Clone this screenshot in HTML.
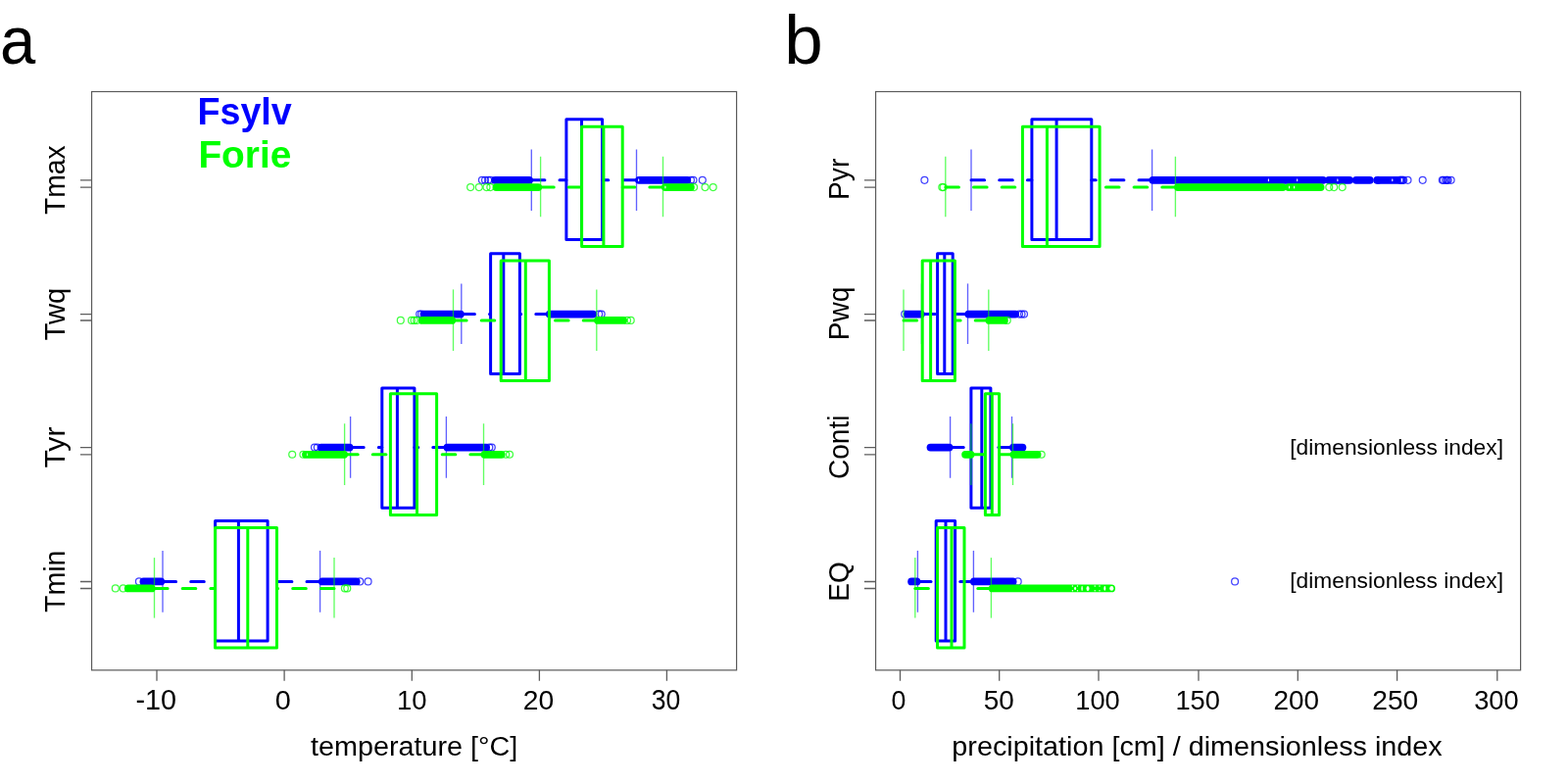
<!DOCTYPE html>
<html lang="en">
<head>
<meta charset="utf-8">
<title>Fsylv / Forie boxplots</title>
<style>
html,body{margin:0;padding:0;background:#fff;}
body{width:1600px;height:800px;overflow:hidden;}
svg{display:block;}

</style>
</head>
<body>
<svg width="1600" height="800" viewBox="0 0 1600 800">
<rect width="1600" height="800" fill="#fff"/>
<g>
<line x1="542.3" y1="183.8" x2="577.9" y2="183.8" stroke="#0000ff" stroke-width="3" stroke-dasharray="13.6 15.1" stroke-linecap="round"/>
<line x1="649.5" y1="183.8" x2="614.6" y2="183.8" stroke="#0000ff" stroke-width="3" stroke-dasharray="13.6 15.1" stroke-linecap="round"/>
<line x1="542.3" y1="152.5" x2="542.3" y2="215" stroke="#0000ff" stroke-width="1.35" stroke-opacity="0.62"/>
<line x1="649.5" y1="152.5" x2="649.5" y2="215" stroke="#0000ff" stroke-width="1.35" stroke-opacity="0.62"/>
<path d="M577.9 121.8H614.6V244.5H577.9ZM593.5 121.8V244.5" fill="none" stroke="#0000ff" stroke-width="3" stroke-linejoin="round"/>
<line x1="505.1" y1="183.8" x2="540.1" y2="183.8" stroke="#0000ff" stroke-width="7.8" stroke-linecap="round"/>
<circle cx="491.9" cy="183.8" r="3.45" fill="none" stroke="#0000ff" stroke-width="1.25" stroke-opacity="0.75"/>
<circle cx="495" cy="183.8" r="3.45" fill="none" stroke="#0000ff" stroke-width="1.25" stroke-opacity="0.75"/>
<circle cx="498.2" cy="183.8" r="3.45" fill="none" stroke="#0000ff" stroke-width="1.25" stroke-opacity="0.75"/>
<circle cx="500.6" cy="183.8" r="3.45" fill="none" stroke="#0000ff" stroke-width="1.25" stroke-opacity="0.75"/>
<line x1="652" y1="183.8" x2="701.3" y2="183.8" stroke="#0000ff" stroke-width="7.8" stroke-linecap="round"/>
<ellipse cx="651.7" cy="183.8" rx="0.6" ry="1.5" fill="#fff"/>
<circle cx="705" cy="183.8" r="3.45" fill="none" stroke="#0000ff" stroke-width="1.25" stroke-opacity="0.75"/>
<circle cx="707.5" cy="183.8" r="3.45" fill="none" stroke="#0000ff" stroke-width="1.25" stroke-opacity="0.75"/>
<circle cx="716.8" cy="183.8" r="3.45" fill="none" stroke="#0000ff" stroke-width="1.25" stroke-opacity="0.75"/>
<line x1="470.8" y1="320.6" x2="500.6" y2="320.6" stroke="#0000ff" stroke-width="3" stroke-dasharray="13.6 15.1" stroke-linecap="round"/>
<line x1="560.4" y1="320.6" x2="530.4" y2="320.6" stroke="#0000ff" stroke-width="3" stroke-dasharray="13.6 15.1" stroke-linecap="round"/>
<line x1="470.8" y1="289.4" x2="470.8" y2="351" stroke="#0000ff" stroke-width="1.35" stroke-opacity="0.62"/>
<line x1="560.4" y1="289.4" x2="560.4" y2="351" stroke="#0000ff" stroke-width="1.35" stroke-opacity="0.62"/>
<path d="M500.6 258.8H530.4V381.5H500.6ZM513.8 258.8V381.5" fill="none" stroke="#0000ff" stroke-width="3" stroke-linejoin="round"/>
<line x1="432.5" y1="320.6" x2="469.9" y2="320.6" stroke="#0000ff" stroke-width="7.8" stroke-linecap="round"/>
<circle cx="428.2" cy="320.6" r="3.45" fill="none" stroke="#0000ff" stroke-width="1.25" stroke-opacity="0.75"/>
<circle cx="430.2" cy="320.6" r="3.45" fill="none" stroke="#0000ff" stroke-width="1.25" stroke-opacity="0.75"/>
<line x1="560.8" y1="320.6" x2="605.1" y2="320.6" stroke="#0000ff" stroke-width="7.8" stroke-linecap="round"/>
<circle cx="611.2" cy="320.6" r="3.45" fill="none" stroke="#0000ff" stroke-width="1.25" stroke-opacity="0.75"/>
<circle cx="613.7" cy="320.6" r="3.45" fill="none" stroke="#0000ff" stroke-width="1.25" stroke-opacity="0.75"/>
<line x1="357.6" y1="456.6" x2="389.8" y2="456.6" stroke="#0000ff" stroke-width="3" stroke-dasharray="13.6 15.1" stroke-linecap="round"/>
<line x1="455.4" y1="456.6" x2="422.9" y2="456.6" stroke="#0000ff" stroke-width="3" stroke-dasharray="13.6 15.1" stroke-linecap="round"/>
<line x1="357.6" y1="425" x2="357.6" y2="487.75" stroke="#0000ff" stroke-width="1.35" stroke-opacity="0.62"/>
<line x1="455.4" y1="425" x2="455.4" y2="487.75" stroke="#0000ff" stroke-width="1.35" stroke-opacity="0.62"/>
<path d="M389.8 395.9H422.9V518.3H389.8ZM405.4 395.9V518.3" fill="none" stroke="#0000ff" stroke-width="3" stroke-linejoin="round"/>
<line x1="327.7" y1="456.6" x2="356.7" y2="456.6" stroke="#0000ff" stroke-width="7.8" stroke-linecap="round"/>
<circle cx="321" cy="456.6" r="3.45" fill="none" stroke="#0000ff" stroke-width="1.25" stroke-opacity="0.75"/>
<circle cx="323.8" cy="456.6" r="3.45" fill="none" stroke="#0000ff" stroke-width="1.25" stroke-opacity="0.75"/>
<line x1="456.4" y1="456.6" x2="496.1" y2="456.6" stroke="#0000ff" stroke-width="7.8" stroke-linecap="round"/>
<circle cx="499.3" cy="456.6" r="3.45" fill="none" stroke="#0000ff" stroke-width="1.25" stroke-opacity="0.75"/>
<circle cx="501.8" cy="456.6" r="3.45" fill="none" stroke="#0000ff" stroke-width="1.25" stroke-opacity="0.75"/>
<line x1="166" y1="593.4" x2="219.6" y2="593.4" stroke="#0000ff" stroke-width="3" stroke-dasharray="13.6 15.1" stroke-linecap="round"/>
<line x1="326.6" y1="593.4" x2="273.1" y2="593.4" stroke="#0000ff" stroke-width="3" stroke-dasharray="13.6 15.1" stroke-linecap="round"/>
<line x1="166" y1="561.9" x2="166" y2="624.75" stroke="#0000ff" stroke-width="1.35" stroke-opacity="0.62"/>
<line x1="326.6" y1="561.9" x2="326.6" y2="624.75" stroke="#0000ff" stroke-width="1.35" stroke-opacity="0.62"/>
<path d="M219.6 531.4H273.1V654.1H219.6ZM243.4 531.4V654.1" fill="none" stroke="#0000ff" stroke-width="3" stroke-linejoin="round"/>
<line x1="146.4" y1="593.4" x2="164.2" y2="593.4" stroke="#0000ff" stroke-width="7.8" stroke-linecap="round"/>
<circle cx="141.9" cy="593.4" r="3.45" fill="none" stroke="#0000ff" stroke-width="1.25" stroke-opacity="0.75"/>
<line x1="328.9" y1="593.4" x2="363.7" y2="593.4" stroke="#0000ff" stroke-width="7.8" stroke-linecap="round"/>
<circle cx="367.3" cy="593.4" r="3.45" fill="none" stroke="#0000ff" stroke-width="1.25" stroke-opacity="0.75"/>
<circle cx="375.6" cy="593.4" r="3.45" fill="none" stroke="#0000ff" stroke-width="1.25" stroke-opacity="0.75"/>
</g><g>
<line x1="551.6" y1="191.1" x2="593.6" y2="191.1" stroke="#00ff00" stroke-width="3" stroke-dasharray="13.6 15.1" stroke-linecap="round"/>
<line x1="676.5" y1="191.1" x2="635.2" y2="191.1" stroke="#00ff00" stroke-width="3" stroke-dasharray="13.6 15.1" stroke-linecap="round"/>
<line x1="551.6" y1="159.75" x2="551.6" y2="221.25" stroke="#00ff00" stroke-width="1.35" stroke-opacity="0.62"/>
<line x1="676.5" y1="159.75" x2="676.5" y2="221.25" stroke="#00ff00" stroke-width="1.35" stroke-opacity="0.62"/>
<path d="M593.6 129.2H635.2V251.6H593.6ZM615.9 129.2V251.6" fill="none" stroke="#00ff00" stroke-width="3" stroke-linejoin="round"/>
<line x1="506.4" y1="191.1" x2="549.2" y2="191.1" stroke="#00ff00" stroke-width="7.8" stroke-linecap="round"/>
<circle cx="480.1" cy="191.1" r="3.45" fill="none" stroke="#00ff00" stroke-width="1.25" stroke-opacity="0.75"/>
<circle cx="488.8" cy="191.1" r="3.45" fill="none" stroke="#00ff00" stroke-width="1.25" stroke-opacity="0.75"/>
<circle cx="496.5" cy="191.1" r="3.45" fill="none" stroke="#00ff00" stroke-width="1.25" stroke-opacity="0.75"/>
<circle cx="500.3" cy="191.1" r="3.45" fill="none" stroke="#00ff00" stroke-width="1.25" stroke-opacity="0.75"/>
<line x1="678.9" y1="191.1" x2="704.9" y2="191.1" stroke="#00ff00" stroke-width="7.8" stroke-linecap="round"/>
<ellipse cx="678.9" cy="191.1" rx="0.6" ry="1.5" fill="#fff"/>
<circle cx="708.1" cy="191.1" r="3.45" fill="none" stroke="#00ff00" stroke-width="1.25" stroke-opacity="0.75"/>
<circle cx="719.5" cy="191.1" r="3.45" fill="none" stroke="#00ff00" stroke-width="1.25" stroke-opacity="0.75"/>
<circle cx="727.7" cy="191.1" r="3.45" fill="none" stroke="#00ff00" stroke-width="1.25" stroke-opacity="0.75"/>
<line x1="462.5" y1="326.9" x2="511.2" y2="326.9" stroke="#00ff00" stroke-width="3" stroke-dasharray="13.6 15.1" stroke-linecap="round"/>
<line x1="608.8" y1="326.9" x2="560.4" y2="326.9" stroke="#00ff00" stroke-width="3" stroke-dasharray="13.6 15.1" stroke-linecap="round"/>
<line x1="462.5" y1="295.4" x2="462.5" y2="358" stroke="#00ff00" stroke-width="1.35" stroke-opacity="0.62"/>
<line x1="608.8" y1="295.4" x2="608.8" y2="358" stroke="#00ff00" stroke-width="1.35" stroke-opacity="0.62"/>
<path d="M511.2 265.9H560.4V388.6H511.2ZM536.3 265.9V388.6" fill="none" stroke="#00ff00" stroke-width="3" stroke-linejoin="round"/>
<line x1="430.8" y1="326.9" x2="461.1" y2="326.9" stroke="#00ff00" stroke-width="7.8" stroke-linecap="round"/>
<circle cx="408.8" cy="326.9" r="3.45" fill="none" stroke="#00ff00" stroke-width="1.25" stroke-opacity="0.75"/>
<circle cx="420" cy="326.9" r="3.45" fill="none" stroke="#00ff00" stroke-width="1.25" stroke-opacity="0.75"/>
<circle cx="422.6" cy="326.9" r="3.45" fill="none" stroke="#00ff00" stroke-width="1.25" stroke-opacity="0.75"/>
<circle cx="425.2" cy="326.9" r="3.45" fill="none" stroke="#00ff00" stroke-width="1.25" stroke-opacity="0.75"/>
<line x1="610.1" y1="326.9" x2="636.1" y2="326.9" stroke="#00ff00" stroke-width="7.8" stroke-linecap="round"/>
<circle cx="640" cy="326.9" r="3.45" fill="none" stroke="#00ff00" stroke-width="1.25" stroke-opacity="0.75"/>
<circle cx="643.7" cy="326.9" r="3.45" fill="none" stroke="#00ff00" stroke-width="1.25" stroke-opacity="0.75"/>
<line x1="351.6" y1="463.8" x2="398.4" y2="463.8" stroke="#00ff00" stroke-width="3" stroke-dasharray="13.6 15.1" stroke-linecap="round"/>
<line x1="493.5" y1="463.8" x2="445.6" y2="463.8" stroke="#00ff00" stroke-width="3" stroke-dasharray="13.6 15.1" stroke-linecap="round"/>
<line x1="351.6" y1="432.25" x2="351.6" y2="495" stroke="#00ff00" stroke-width="1.35" stroke-opacity="0.62"/>
<line x1="493.5" y1="432.25" x2="493.5" y2="495" stroke="#00ff00" stroke-width="1.35" stroke-opacity="0.62"/>
<path d="M398.4 401.7H445.6V525.4H398.4ZM425.5 401.7V525.4" fill="none" stroke="#00ff00" stroke-width="3" stroke-linejoin="round"/>
<line x1="312" y1="463.8" x2="351.1" y2="463.8" stroke="#00ff00" stroke-width="7.8" stroke-linecap="round"/>
<ellipse cx="313.5" cy="463.8" rx="0.6" ry="1.5" fill="#fff"/>
<circle cx="298.2" cy="463.8" r="3.45" fill="none" stroke="#00ff00" stroke-width="1.25" stroke-opacity="0.75"/>
<circle cx="309.4" cy="463.8" r="3.45" fill="none" stroke="#00ff00" stroke-width="1.25" stroke-opacity="0.75"/>
<line x1="494.5" y1="463.8" x2="511.7" y2="463.8" stroke="#00ff00" stroke-width="7.8" stroke-linecap="round"/>
<circle cx="516.2" cy="463.8" r="3.45" fill="none" stroke="#00ff00" stroke-width="1.25" stroke-opacity="0.75"/>
<circle cx="520" cy="463.8" r="3.45" fill="none" stroke="#00ff00" stroke-width="1.25" stroke-opacity="0.75"/>
<line x1="157.5" y1="600.4" x2="219.5" y2="600.4" stroke="#00ff00" stroke-width="3" stroke-dasharray="13.6 15.1" stroke-linecap="round"/>
<line x1="341" y1="600.4" x2="282.5" y2="600.4" stroke="#00ff00" stroke-width="3" stroke-dasharray="13.6 15.1" stroke-linecap="round"/>
<line x1="157.5" y1="569.1" x2="157.5" y2="630.6" stroke="#00ff00" stroke-width="1.35" stroke-opacity="0.62"/>
<line x1="341" y1="569.1" x2="341" y2="630.6" stroke="#00ff00" stroke-width="1.35" stroke-opacity="0.62"/>
<path d="M219.5 538.4H282.5V661H219.5ZM252.8 538.4V661" fill="none" stroke="#00ff00" stroke-width="3" stroke-linejoin="round"/>
<line x1="130.8" y1="600.4" x2="154.7" y2="600.4" stroke="#00ff00" stroke-width="7.8" stroke-linecap="round"/>
<circle cx="117.8" cy="600.4" r="3.45" fill="none" stroke="#00ff00" stroke-width="1.25" stroke-opacity="0.75"/>
<circle cx="125.7" cy="600.4" r="3.45" fill="none" stroke="#00ff00" stroke-width="1.25" stroke-opacity="0.75"/>
<circle cx="351.9" cy="600.4" r="3.45" fill="none" stroke="#00ff00" stroke-width="1.25" stroke-opacity="0.75"/>
<circle cx="354.3" cy="600.4" r="3.45" fill="none" stroke="#00ff00" stroke-width="1.25" stroke-opacity="0.75"/>
</g>
<rect x="93.55" y="93.5" width="658.05" height="590.35" fill="none" stroke="#5a5a5a" stroke-width="1.2"/>
<path d="M93.55 183.9H81.95M93.55 320.7H81.95M93.55 456.7H81.95M93.55 593.5H81.95M93.55 191.2H81.95M93.55 327H81.95M93.55 463.9H81.95M93.55 600.5H81.95M160 683.85V694.85M290.1 683.85V694.85M420.3 683.85V694.85M550.4 683.85V694.85M680.4 683.85V694.85" fill="none" stroke="#5e5e5e" stroke-width="1.3"/>
<g>
<line x1="991" y1="183.8" x2="1052.9" y2="183.8" stroke="#0000ff" stroke-width="3" stroke-dasharray="13.6 15.1" stroke-linecap="round"/>
<line x1="1175.6" y1="183.8" x2="1113.8" y2="183.8" stroke="#0000ff" stroke-width="3" stroke-dasharray="13.6 15.1" stroke-linecap="round"/>
<line x1="991" y1="152.5" x2="991" y2="215" stroke="#0000ff" stroke-width="1.35" stroke-opacity="0.62"/>
<line x1="1175.6" y1="152.5" x2="1175.6" y2="215" stroke="#0000ff" stroke-width="1.35" stroke-opacity="0.62"/>
<path d="M1052.9 121.8H1113.8V244.5H1052.9ZM1078.1 121.8V244.5" fill="none" stroke="#0000ff" stroke-width="3" stroke-linejoin="round"/>
<circle cx="943.4" cy="183.8" r="3.45" fill="none" stroke="#0000ff" stroke-width="1.25" stroke-opacity="0.75"/>
<line x1="1176.4" y1="183.8" x2="1350" y2="183.8" stroke="#0000ff" stroke-width="7.8" stroke-linecap="round"/>
<line x1="1355.9" y1="183.8" x2="1377.1" y2="183.8" stroke="#0000ff" stroke-width="7.8" stroke-linecap="round"/>
<line x1="1383.8" y1="183.8" x2="1397.8" y2="183.8" stroke="#0000ff" stroke-width="7.8" stroke-linecap="round"/>
<line x1="1405.2" y1="183.8" x2="1425.7" y2="183.8" stroke="#0000ff" stroke-width="7.8" stroke-linecap="round"/>
<ellipse cx="1294.4" cy="183.8" rx="0.6" ry="1.5" fill="#fff"/>
<ellipse cx="1323.7" cy="183.8" rx="0.6" ry="1.5" fill="#fff"/>
<ellipse cx="1364.9" cy="183.8" rx="0.6" ry="1.5" fill="#fff"/>
<ellipse cx="1420.8" cy="183.8" rx="0.6" ry="1.5" fill="#fff"/>
<circle cx="1406.2" cy="183.8" r="3.45" fill="none" stroke="#0000ff" stroke-width="1.25" stroke-opacity="0.75"/>
<circle cx="1428.2" cy="183.8" r="3.45" fill="none" stroke="#0000ff" stroke-width="1.25" stroke-opacity="0.75"/>
<circle cx="1429.2" cy="183.8" r="3.45" fill="none" stroke="#0000ff" stroke-width="1.25" stroke-opacity="0.75"/>
<circle cx="1430.2" cy="183.8" r="3.45" fill="none" stroke="#0000ff" stroke-width="1.25" stroke-opacity="0.75"/>
<circle cx="1431.2" cy="183.8" r="3.45" fill="none" stroke="#0000ff" stroke-width="1.25" stroke-opacity="0.75"/>
<circle cx="1432.2" cy="183.8" r="3.45" fill="none" stroke="#0000ff" stroke-width="1.25" stroke-opacity="0.75"/>
<circle cx="1436.5" cy="183.8" r="3.45" fill="none" stroke="#0000ff" stroke-width="1.25" stroke-opacity="0.75"/>
<circle cx="1451.7" cy="183.8" r="3.45" fill="none" stroke="#0000ff" stroke-width="1.25" stroke-opacity="0.75"/>
<circle cx="1471.8" cy="183.8" r="3.45" fill="none" stroke="#0000ff" stroke-width="1.25" stroke-opacity="0.75"/>
<circle cx="1473" cy="183.8" r="3.45" fill="none" stroke="#0000ff" stroke-width="1.25" stroke-opacity="0.75"/>
<circle cx="1475.3" cy="183.8" r="3.45" fill="none" stroke="#0000ff" stroke-width="1.25" stroke-opacity="0.75"/>
<circle cx="1476.5" cy="183.8" r="3.45" fill="none" stroke="#0000ff" stroke-width="1.25" stroke-opacity="0.75"/>
<circle cx="1477.6" cy="183.8" r="3.45" fill="none" stroke="#0000ff" stroke-width="1.25" stroke-opacity="0.75"/>
<circle cx="1480.6" cy="183.8" r="3.45" fill="none" stroke="#0000ff" stroke-width="1.25" stroke-opacity="0.75"/>
<line x1="940.5" y1="320.6" x2="956.6" y2="320.6" stroke="#0000ff" stroke-width="3" stroke-dasharray="13.6 15.1" stroke-linecap="round"/>
<line x1="987.5" y1="320.6" x2="972.2" y2="320.6" stroke="#0000ff" stroke-width="3" stroke-dasharray="13.6 15.1" stroke-linecap="round"/>
<line x1="940.5" y1="289.4" x2="940.5" y2="351" stroke="#0000ff" stroke-width="1.35" stroke-opacity="0.62"/>
<line x1="987.5" y1="289.4" x2="987.5" y2="351" stroke="#0000ff" stroke-width="1.35" stroke-opacity="0.62"/>
<path d="M956.6 258.8H972.2V381.5H956.6ZM963.8 258.8V381.5" fill="none" stroke="#0000ff" stroke-width="3" stroke-linejoin="round"/>
<line x1="925.8" y1="320.6" x2="939.9" y2="320.6" stroke="#0000ff" stroke-width="7.8" stroke-linecap="round"/>
<circle cx="923.2" cy="320.6" r="3.45" fill="none" stroke="#0000ff" stroke-width="1.25" stroke-opacity="0.75"/>
<line x1="988.3" y1="320.6" x2="1036.1" y2="320.6" stroke="#0000ff" stroke-width="7.8" stroke-linecap="round"/>
<circle cx="1040" cy="320.6" r="3.45" fill="none" stroke="#0000ff" stroke-width="1.25" stroke-opacity="0.75"/>
<circle cx="1042.5" cy="320.6" r="3.45" fill="none" stroke="#0000ff" stroke-width="1.25" stroke-opacity="0.75"/>
<circle cx="1045" cy="320.6" r="3.45" fill="none" stroke="#0000ff" stroke-width="1.25" stroke-opacity="0.75"/>
<line x1="969.6" y1="456.6" x2="990.9" y2="456.6" stroke="#0000ff" stroke-width="3" stroke-dasharray="13.6 15.1" stroke-linecap="round"/>
<line x1="1032.5" y1="456.6" x2="1010.9" y2="456.6" stroke="#0000ff" stroke-width="3" stroke-dasharray="13.6 15.1" stroke-linecap="round"/>
<line x1="969.6" y1="425" x2="969.6" y2="487.75" stroke="#0000ff" stroke-width="1.35" stroke-opacity="0.62"/>
<line x1="1032.5" y1="425" x2="1032.5" y2="487.75" stroke="#0000ff" stroke-width="1.35" stroke-opacity="0.62"/>
<path d="M990.9 395.9H1010.9V518.3H990.9ZM1001.8 395.9V518.3" fill="none" stroke="#0000ff" stroke-width="3" stroke-linejoin="round"/>
<line x1="949.5" y1="456.6" x2="968.6" y2="456.6" stroke="#0000ff" stroke-width="7.8" stroke-linecap="round"/>
<line x1="1033.9" y1="456.6" x2="1043.4" y2="456.6" stroke="#0000ff" stroke-width="7.8" stroke-linecap="round"/>
<line x1="936.4" y1="593.4" x2="955.2" y2="593.4" stroke="#0000ff" stroke-width="3" stroke-dasharray="13.6 15.1" stroke-linecap="round"/>
<line x1="993.4" y1="593.4" x2="974.6" y2="593.4" stroke="#0000ff" stroke-width="3" stroke-dasharray="13.6 15.1" stroke-linecap="round"/>
<line x1="936.4" y1="561.9" x2="936.4" y2="624.75" stroke="#0000ff" stroke-width="1.35" stroke-opacity="0.62"/>
<line x1="993.4" y1="561.9" x2="993.4" y2="624.75" stroke="#0000ff" stroke-width="1.35" stroke-opacity="0.62"/>
<path d="M955.2 531.4H974.6V654.1H955.2ZM965 531.4V654.1" fill="none" stroke="#0000ff" stroke-width="3" stroke-linejoin="round"/>
<line x1="930.1" y1="593.4" x2="935.5" y2="593.4" stroke="#0000ff" stroke-width="7.8" stroke-linecap="round"/>
<line x1="993.9" y1="593.4" x2="1033.6" y2="593.4" stroke="#0000ff" stroke-width="7.8" stroke-linecap="round"/>
<circle cx="1038.7" cy="593.4" r="3.45" fill="none" stroke="#0000ff" stroke-width="1.25" stroke-opacity="0.75"/>
<circle cx="1260.1" cy="593.4" r="3.45" fill="none" stroke="#0000ff" stroke-width="1.25" stroke-opacity="0.75"/>
</g><g>
<line x1="964.8" y1="191.1" x2="1043.4" y2="191.1" stroke="#00ff00" stroke-width="3" stroke-dasharray="13.6 15.1" stroke-linecap="round"/>
<line x1="1199.4" y1="191.1" x2="1122.1" y2="191.1" stroke="#00ff00" stroke-width="3" stroke-dasharray="13.6 15.1" stroke-linecap="round"/>
<line x1="964.8" y1="159.75" x2="964.8" y2="221.25" stroke="#00ff00" stroke-width="1.35" stroke-opacity="0.62"/>
<line x1="1199.4" y1="159.75" x2="1199.4" y2="221.25" stroke="#00ff00" stroke-width="1.35" stroke-opacity="0.62"/>
<path d="M1043.4 129.2H1122.1V251.6H1043.4ZM1068.4 129.2V251.6" fill="none" stroke="#00ff00" stroke-width="3" stroke-linejoin="round"/>
<circle cx="961.3" cy="191.1" r="3.45" fill="none" stroke="#00ff00" stroke-width="1.25" stroke-opacity="0.75"/>
<circle cx="962.6" cy="191.1" r="3.45" fill="none" stroke="#00ff00" stroke-width="1.25" stroke-opacity="0.75"/>
<line x1="1202" y1="191.1" x2="1308.9" y2="191.1" stroke="#00ff00" stroke-width="7.8" stroke-linecap="round"/>
<line x1="1314.9" y1="191.1" x2="1347.6" y2="191.1" stroke="#00ff00" stroke-width="7.8" stroke-linecap="round"/>
<ellipse cx="1315.6" cy="191.1" rx="0.6" ry="1.5" fill="#fff"/>
<ellipse cx="1320.6" cy="191.1" rx="0.6" ry="1.5" fill="#fff"/>
<circle cx="1356.3" cy="191.1" r="3.45" fill="none" stroke="#00ff00" stroke-width="1.25" stroke-opacity="0.75"/>
<circle cx="1361.2" cy="191.1" r="3.45" fill="none" stroke="#00ff00" stroke-width="1.25" stroke-opacity="0.75"/>
<circle cx="1369.7" cy="191.1" r="3.45" fill="none" stroke="#00ff00" stroke-width="1.25" stroke-opacity="0.75"/>
<line x1="922" y1="326.9" x2="941.2" y2="326.9" stroke="#00ff00" stroke-width="3" stroke-dasharray="13.6 15.1" stroke-linecap="round"/>
<line x1="1008.8" y1="326.9" x2="974.4" y2="326.9" stroke="#00ff00" stroke-width="3" stroke-dasharray="13.6 15.1" stroke-linecap="round"/>
<line x1="922" y1="295.4" x2="922" y2="358" stroke="#00ff00" stroke-width="1.35" stroke-opacity="0.62"/>
<line x1="1008.8" y1="295.4" x2="1008.8" y2="358" stroke="#00ff00" stroke-width="1.35" stroke-opacity="0.62"/>
<path d="M941.2 265.9H974.4V388.6H941.2ZM949.6 265.9V388.6" fill="none" stroke="#00ff00" stroke-width="3" stroke-linejoin="round"/>
<line x1="1009.5" y1="326.9" x2="1024.9" y2="326.9" stroke="#00ff00" stroke-width="7.8" stroke-linecap="round"/>
<circle cx="1027.7" cy="326.9" r="3.45" fill="none" stroke="#00ff00" stroke-width="1.25" stroke-opacity="0.75"/>
<line x1="990.9" y1="463.8" x2="1005.4" y2="463.8" stroke="#00ff00" stroke-width="3" stroke-dasharray="13.6 15.1" stroke-linecap="round"/>
<line x1="1033.5" y1="463.8" x2="1019.6" y2="463.8" stroke="#00ff00" stroke-width="3" stroke-dasharray="13.6 15.1" stroke-linecap="round"/>
<line x1="990.9" y1="432.25" x2="990.9" y2="495" stroke="#00ff00" stroke-width="1.35" stroke-opacity="0.62"/>
<line x1="1033.5" y1="432.25" x2="1033.5" y2="495" stroke="#00ff00" stroke-width="1.35" stroke-opacity="0.62"/>
<path d="M1005.4 401.7H1019.6V525.4H1005.4ZM1012.3 401.7V525.4" fill="none" stroke="#00ff00" stroke-width="3" stroke-linejoin="round"/>
<line x1="985.1" y1="463.8" x2="990.5" y2="463.8" stroke="#00ff00" stroke-width="7.8" stroke-linecap="round"/>
<line x1="1034.5" y1="463.8" x2="1058.6" y2="463.8" stroke="#00ff00" stroke-width="7.8" stroke-linecap="round"/>
<circle cx="1062.7" cy="463.8" r="3.45" fill="none" stroke="#00ff00" stroke-width="1.25" stroke-opacity="0.75"/>
<line x1="933.8" y1="600.4" x2="956.5" y2="600.4" stroke="#00ff00" stroke-width="3" stroke-dasharray="13.6 15.1" stroke-linecap="round"/>
<line x1="1011.4" y1="600.4" x2="984" y2="600.4" stroke="#00ff00" stroke-width="3" stroke-dasharray="13.6 15.1" stroke-linecap="round"/>
<line x1="933.8" y1="569.1" x2="933.8" y2="630.6" stroke="#00ff00" stroke-width="1.35" stroke-opacity="0.62"/>
<line x1="1011.4" y1="569.1" x2="1011.4" y2="630.6" stroke="#00ff00" stroke-width="1.35" stroke-opacity="0.62"/>
<path d="M956.5 538.4H984V661H956.5ZM971 538.4V661" fill="none" stroke="#00ff00" stroke-width="3" stroke-linejoin="round"/>
<line x1="1012.7" y1="600.4" x2="1134.1" y2="600.4" stroke="#00ff00" stroke-width="7.8" stroke-linecap="round"/>
<ellipse cx="1094.4" cy="598" rx="0.7" ry="0.8" fill="#fff"/>
<ellipse cx="1094.4" cy="602.8" rx="0.7" ry="0.8" fill="#fff"/>
<ellipse cx="1097.1" cy="600.4" rx="1" ry="1.6" fill="#fff"/>
<ellipse cx="1099.5" cy="598" rx="0.7" ry="0.8" fill="#fff"/>
<ellipse cx="1099.5" cy="602.8" rx="0.7" ry="0.8" fill="#fff"/>
<ellipse cx="1104.1" cy="600.4" rx="0.75" ry="2.6" fill="#fff"/>
<ellipse cx="1110" cy="600.4" rx="1.5" ry="2.5" fill="#fff"/>
<ellipse cx="1117.2" cy="598.1" rx="0.7" ry="0.8" fill="#fff"/>
<ellipse cx="1117.2" cy="602.7" rx="0.7" ry="0.8" fill="#fff"/>
<ellipse cx="1122" cy="598.1" rx="0.7" ry="0.8" fill="#fff"/>
<ellipse cx="1122" cy="602.7" rx="0.7" ry="0.8" fill="#fff"/>
<ellipse cx="1127.3" cy="600.4" rx="1" ry="2.4" fill="#fff"/>
<ellipse cx="1134.3" cy="600.4" rx="2.1" ry="2.3" fill="#fff"/>
</g>
<rect x="893.55" y="93.5" width="658.05" height="590.35" fill="none" stroke="#5a5a5a" stroke-width="1.2"/>
<path d="M893.55 183.9H881.95M893.55 320.7H881.95M893.55 456.7H881.95M893.55 593.5H881.95M893.55 191.2H881.95M893.55 327H881.95M893.55 463.9H881.95M893.55 600.5H881.95M918.5 683.85V694.85M1019.7 683.85V694.85M1121 683.85V694.85M1223 683.85V694.85M1324.3 683.85V694.85M1425.6 683.85V694.85M1527.8 683.85V694.85" fill="none" stroke="#5e5e5e" stroke-width="1.3"/>
<text transform="translate(138.41 724.4) scale(1.0289 1.02)" font-size="28" font-family="'Liberation Sans',Arial,Helvetica,sans-serif">-10</text>
<text transform="translate(280.77 724.4) scale(1.0296 1.02)" font-size="28" font-family="'Liberation Sans',Arial,Helvetica,sans-serif">0</text>
<text transform="translate(404.99 724.4) scale(0.9802 1.02)" font-size="28" font-family="'Liberation Sans',Arial,Helvetica,sans-serif">10</text>
<text transform="translate(533.78 724.4) scale(1.0105 1.02)" font-size="28" font-family="'Liberation Sans',Arial,Helvetica,sans-serif">20</text>
<text transform="translate(664.65 724.4) scale(0.9483 1.02)" font-size="28" font-family="'Liberation Sans',Arial,Helvetica,sans-serif">30</text>
<text transform="translate(909.44 724.4) scale(0.9556 1.02)" font-size="28" font-family="'Liberation Sans',Arial,Helvetica,sans-serif">0</text>
<text transform="translate(1003.65 724.4) scale(0.9983 1.02)" font-size="28" font-family="'Liberation Sans',Arial,Helvetica,sans-serif">50</text>
<text transform="translate(1097.2 724.4) scale(0.9757 1.02)" font-size="28" font-family="'Liberation Sans',Arial,Helvetica,sans-serif">100</text>
<text transform="translate(1199.4 724.4) scale(0.9757 1.02)" font-size="28" font-family="'Liberation Sans',Arial,Helvetica,sans-serif">150</text>
<text transform="translate(1299.4 724.4) scale(0.9977 1.02)" font-size="28" font-family="'Liberation Sans',Arial,Helvetica,sans-serif">200</text>
<text transform="translate(1400.19 724.4) scale(1.0091 1.02)" font-size="28" font-family="'Liberation Sans',Arial,Helvetica,sans-serif">250</text>
<text transform="translate(1504.23 724.4) scale(0.9730 1.02)" font-size="28" font-family="'Liberation Sans',Arial,Helvetica,sans-serif">300</text>
<text transform="translate(316.99 771) scale(1.0273 1)" font-size="28" font-family="'Liberation Sans',Arial,Helvetica,sans-serif">temperature [°C]</text>
<text transform="translate(971.3 771) scale(1.0282 1)" font-size="28" font-family="'Liberation Sans',Arial,Helvetica,sans-serif">precipitation [cm] / dimensionless index</text>
<text transform="translate(66.2 218.96) rotate(-90) scale(1.0095 1.04)" font-size="28" font-family="'Liberation Sans',Arial,Helvetica,sans-serif">Tmax</text>
<text transform="translate(66.2 347.39) rotate(-90) scale(1.0472 1.04)" font-size="28" font-family="'Liberation Sans',Arial,Helvetica,sans-serif">Twq</text>
<text transform="translate(66.2 477.41) rotate(-90) scale(1.0781 1.04)" font-size="28" font-family="'Liberation Sans',Arial,Helvetica,sans-serif">Tyr</text>
<text transform="translate(66.2 625.07) rotate(-90) scale(1.0226 1.04)" font-size="28" font-family="'Liberation Sans',Arial,Helvetica,sans-serif">Tmin</text>
<text transform="translate(866.2 204.07) rotate(-90) scale(1.0089 1.04)" font-size="28" font-family="'Liberation Sans',Arial,Helvetica,sans-serif">Pyr</text>
<text transform="translate(866.2 347.21) rotate(-90) scale(1.0030 1.04)" font-size="28" font-family="'Liberation Sans',Arial,Helvetica,sans-serif">Pwq</text>
<text transform="translate(866.2 489.11) rotate(-90) scale(1.0048 1.04)" font-size="28" font-family="'Liberation Sans',Arial,Helvetica,sans-serif">Conti</text>
<text transform="translate(866.2 613.86) rotate(-90) scale(1.0041 1.04)" font-size="28" font-family="'Liberation Sans',Arial,Helvetica,sans-serif">EQ</text>
<text transform="translate(0.05 65.2) scale(0.9514 1)" font-size="68.5" font-family="'Liberation Sans',Arial,Helvetica,sans-serif">a</text>
<text transform="translate(800.22 64.9) scale(1.0176 1)" font-size="69.7" font-family="'Liberation Sans',Arial,Helvetica,sans-serif">b</text>
<text transform="translate(201.45 127) scale(1.0185 1.03)" font-size="37" font-family="'Liberation Sans',Arial,Helvetica,sans-serif" font-weight="bold" fill="#0000ff">Fsylv</text>
<text transform="translate(202.38 171.2) scale(1.0490 1.03)" font-size="37" font-family="'Liberation Sans',Arial,Helvetica,sans-serif" font-weight="bold" fill="#00ff00">Forie</text>
<text transform="translate(1316.19 464.2) scale(1.0085 1)" font-size="22.6" font-family="'Liberation Sans',Arial,Helvetica,sans-serif">[dimensionless index]</text>
<text transform="translate(1316.19 600.2) scale(1.0085 1)" font-size="22.6" font-family="'Liberation Sans',Arial,Helvetica,sans-serif">[dimensionless index]</text>
</svg>
</body>
</html>
